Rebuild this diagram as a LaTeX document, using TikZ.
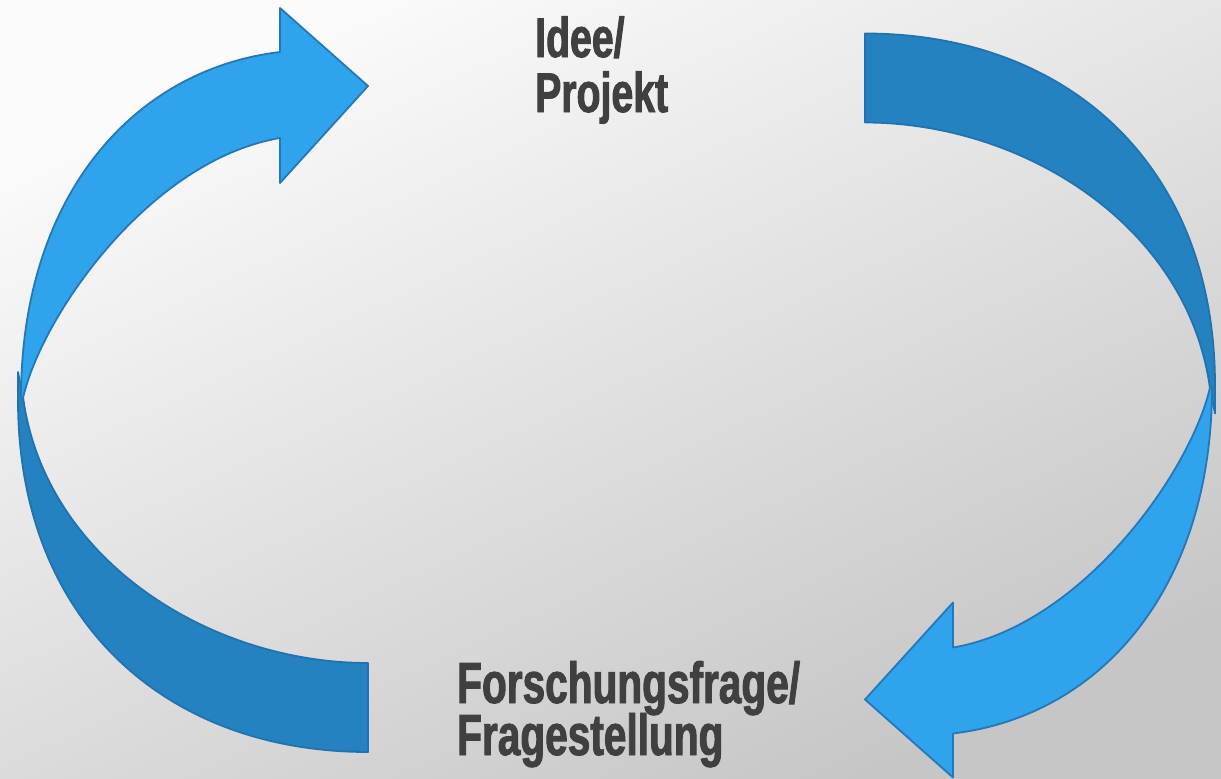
\documentclass[tikz,border=0pt]{standalone}
\usepackage{fontspec}
\newfontfamily\impfont[FakeStretch=0.70,FakeBold=1.6]{Liberation Sans Bold}
\definecolor{lightfill}{RGB}{47,163,235}
\definecolor{lightline}{RGB}{36,120,186}
\definecolor{darkfill}{RGB}{37,130,192}
\definecolor{darkline}{RGB}{33,114,176}
\definecolor{txt}{RGB}{64,64,64}
\definecolor{bgtop}{RGB}{251,251,251}
\definecolor{bgbot}{RGB}{198,198,198}
\begin{document}
\begin{tikzpicture}[x=1pt,y=-1pt,
  lightpart/.style={fill=lightfill,draw=lightline,line width=1.8pt,line join=round},
  darkpart/.style={fill=darkfill,draw=darkline,line width=1.8pt,line join=round},
  lbl/.style={anchor=base west,inner sep=0pt,text=txt}]
\useasboundingbox (0,0) rectangle (1221,779);
\shade[top color=bgtop,bottom color=bgbot,shading angle=25] (0,0) rectangle (1221,779);
% left cycle part
\begin{scope}
\draw[darkpart] (18,372) -- (18,400) .. controls (18,620) and (165,752) .. (368,752)
  -- (368,663) .. controls (210,663) and (45,560) .. (23,397) -- cycle;
\draw[lightpart] (21,398) .. controls (21,200) and (130,70) .. (280,52)
  -- (280,8) -- (368,86) -- (280,183) -- (280,138)
  .. controls (150,160) and (42,315) .. (23,398) -- cycle;
\end{scope}
% right cycle part (180 degree copy)
\begin{scope}[rotate around={180:(616.5,392.75)}]
\draw[darkpart] (18,372) -- (18,400) .. controls (18,620) and (165,752) .. (368,752)
  -- (368,663) .. controls (210,663) and (45,560) .. (23,397) -- cycle;
\draw[lightpart] (21,398) .. controls (21,200) and (130,70) .. (280,52)
  -- (280,8) -- (368,86) -- (280,183) -- (280,138)
  .. controls (150,160) and (42,315) .. (23,398) -- cycle;
\end{scope}
\node[lbl,font=\impfont\fontsize{56}{60}\selectfont] (ideeA) at (535,57) {Idee/};
\node[lbl,font=\impfont\fontsize{56}{60}\selectfont] (ideeB) at (535,112) {Projekt};
\node[lbl,font=\impfont\fontsize{58}{60}\selectfont] (frageA) at (457,703) {Forschungsfrage/};
\node[lbl,font=\impfont\fontsize{58}{60}\selectfont] (frageB) at (457,755) {Fragestellung};
\end{tikzpicture}
\end{document}
